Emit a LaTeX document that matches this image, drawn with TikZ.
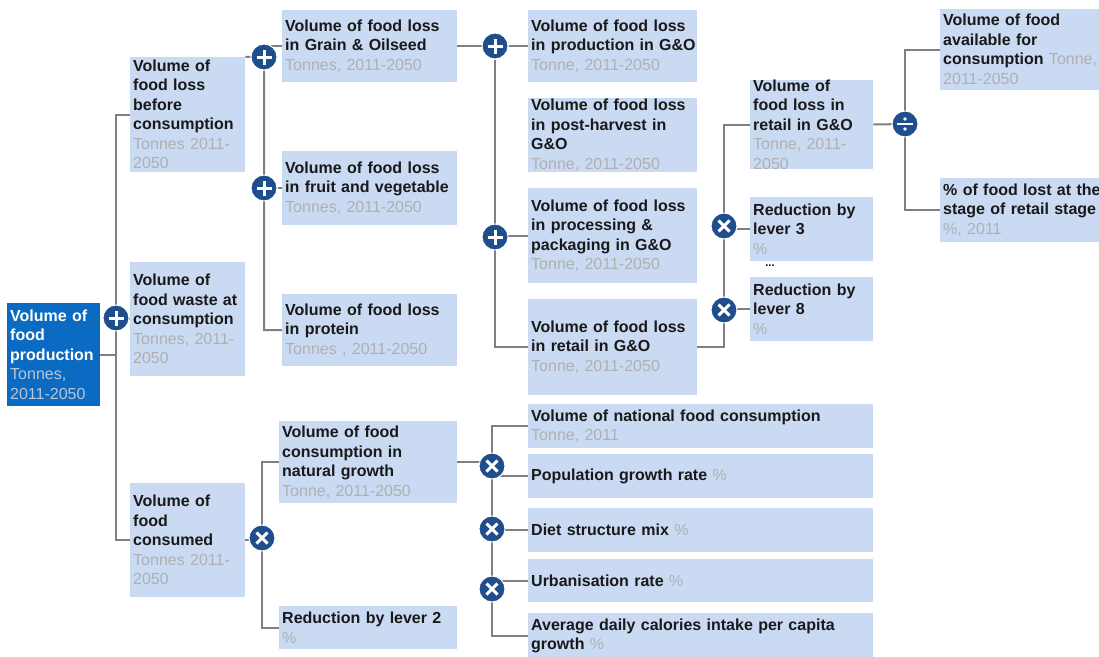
\documentclass[tikz,border=0pt]{standalone}
\usepackage{fontspec}
\setmainfont{Liberation Sans}
\usetikzlibrary{positioning, calc}

\pgfdeclarelayer{bg}
\pgfsetlayers{bg,main}

\definecolor{boxblue}{HTML}{C9DAF2}
\definecolor{rootblue}{HTML}{0B6BC2}
\definecolor{opblue}{HTML}{1F4E8C}
\definecolor{linegray}{HTML}{808080}
\definecolor{unitgray}{HTML}{B0B0B0}
\definecolor{rootunit}{HTML}{B8C6D8}

\newcommand{\unittxt}[1]{{\mdseries\color{unitgray}#1}}
\newcommand{\rootunittxt}[1]{{\mdseries\color{rootunit}#1}}

\begin{document}
\begin{tikzpicture}[
    x=1pt, y=-1pt,
    base/.style={rectangle, anchor=west, align=left, inner xsep=3pt, inner ysep=0pt, font=\bfseries\fontsize{16}{19.5}\selectfont},
    box/.style={base, fill=boxblue, text=black!90},
    rootbox/.style={base, fill=rootblue, text=white},
    wh/.style n args={3}{minimum width=#1pt, minimum height=#2pt, text width=#3pt},
    op/.style={circle, minimum size=26pt, inner sep=0pt, fill=opblue, draw=white, line width=1pt},
    plusop/.style={op, path picture={
        \draw[white, line width=3pt]
            ([xshift=-7.5pt]path picture bounding box.center) -- ([xshift=7.5pt]path picture bounding box.center)
            ([yshift=-7.5pt]path picture bounding box.center) -- ([yshift=7.5pt]path picture bounding box.center);}},
    timesop/.style={op, path picture={
        \draw[white, line width=3pt]
            ([shift={(-5.5pt,-5.5pt)}]path picture bounding box.center) -- ([shift={(5.5pt,5.5pt)}]path picture bounding box.center)
            ([shift={(-5.5pt,5.5pt)}]path picture bounding box.center) -- ([shift={(5.5pt,-5.5pt)}]path picture bounding box.center);}},
    divop/.style={op, path picture={
        \draw[white, line width=2.5pt]
            ([xshift=-8pt]path picture bounding box.center) -- ([xshift=8pt]path picture bounding box.center);
        \fill[white] ([yshift=5pt]path picture bounding box.center) circle (1.8pt)
            ([yshift=-5pt]path picture bounding box.center) circle (1.8pt);}},
    link/.style={draw=linegray, line width=2pt}
]
    \useasboundingbox (0,0) rectangle (1099,656);

    % --- ROOT ---
    \node (root) [rootbox, wh={93}{103}{87}] at (7,354.5) {Volume of\\food\\production\\\rootunittxt{Tonnes,}\\\rootunittxt{2011-2050}};

    % --- LEVEL 1 ---
    \node (a1) [box, wh={115}{115}{109}] at (130,114.5) {Volume of\\food loss\\before\\consumption\\\unittxt{Tonnes 2011-}\\\unittxt{2050}};
    \node (a2) [box, wh={115}{114}{109}] at (130,319) {Volume of\\food waste at\\consumption\\\unittxt{Tonnes, 2011-}\\\unittxt{2050}};
    \node (a3) [box, wh={115}{114}{109}] at (130,540) {Volume of\\food\\consumed\\\unittxt{Tonnes 2011-}\\\unittxt{2050}};

    % --- FOOD LOSS BY GROUP ---
    \node (b1) [box, wh={175}{72}{169}] at (282,46) {Volume of food loss\\in Grain \& Oilseed\\\unittxt{Tonnes, 2011-2050}};
    \node (b2) [box, wh={175}{74}{169}] at (282,188) {Volume of food loss\\in fruit and vegetable\\\unittxt{Tonnes, 2011-2050}};
    \node (b3) [box, wh={175}{72}{169}] at (282,330) {Volume of food loss\\in protein\\\unittxt{Tonnes , 2011-2050}};

    % --- G&O STAGES ---
    \node (c1) [box, wh={169}{72}{163}] at (528,46) {Volume of food loss\\\mbox{in production in G\&O}\\\unittxt{Tonne, 2011-2050}};
    \node (c2) [box, wh={169}{74}{163}] at (528,135) {Volume of food loss\\in post-harvest in\\G\&O\\\unittxt{Tonne, 2011-2050}};
    \node (c3) [box, wh={169}{95}{163}] at (528,235.5) {Volume of food loss\\in processing \&\\packaging in G\&O\\\unittxt{Tonne, 2011-2050}};
    \node (c4) [box, wh={169}{96}{163}] at (528,347) {Volume of food loss\\in retail in G\&O\\\unittxt{Tonne, 2011-2050}};

    % --- RETAIL ---
    \node (d1) [box, wh={123}{87}{117}] at (750,124.5) {Volume of\\food loss in\\retail in G\&O\\\unittxt{Tonne, 2011-}\\\unittxt{2050}};
    \node (d2) [box, wh={123}{64}{117}] at (750,229) {Reduction by\\lever 3\\\unittxt{\%}};
    \node (dots) [font=\bfseries\fontsize{11}{12}\selectfont] at (770,266) {...};
    \node (d3) [box, wh={123}{64}{117}] at (750,309) {Reduction by\\lever 8\\\unittxt{\%}};

    \node (e1) [box, wh={165}{81}{159}] at (940,49.5) {Volume of food\\available for\\\mbox{consumption \unittxt{Tonne,}}\\\unittxt{2011-2050}};
    \node (e2) [box, wh={165}{64}{159}] at (940,210) {\mbox{\% of food lost at the}\\stage of retail stage\\\unittxt{\%, 2011}};

    % --- CONSUMPTION ---
    \node (f1) [box, wh={178}{82}{172}] at (279,462) {Volume of food\\consumption in\\natural growth\\\unittxt{Tonne, 2011-2050}};
    \node (f2) [box, wh={178}{43}{172}] at (279,627.5) {Reduction by lever 2\\\unittxt{\%}};

    \node (g1) [box, wh={345}{44}{339}] at (528,426) {Volume of national food consumption\\\unittxt{Tonne, 2011}};
    \node (g2) [box, wh={345}{44}{339}] at (528,476) {Population growth rate \unittxt{\%}};
    \node (g3) [box, wh={345}{44}{339}] at (528,530) {Diet structure mix \unittxt{\%}};
    \node (g4) [box, wh={345}{43}{339}] at (528,580.5) {Urbanisation rate \unittxt{\%}};
    \node (g5) [box, wh={345}{46}{339}] at (528,636) {Average daily calories intake per capita\\growth \unittxt{\%}};

    % --- OPERATORS ---
    \node (opA) [plusop] at (116,318) {};
    \node (opB1) [plusop] at (264,57) {};
    \node (opB2) [plusop] at (264,188) {};
    \node (opC1) [plusop] at (495,46) {};
    \node (opC2) [plusop] at (495,237) {};
    \node (opD1) [timesop] at (724,226) {};
    \node (opD2) [timesop] at (724,310) {};
    \node (opE) [divop] at (905,124) {};
    \node (opF) [timesop] at (262,538) {};
    \node (opG1) [timesop] at (492,466) {};
    \node (opG2) [timesop] at (492,529) {};
    \node (opG3) [timesop] at (492,589) {};

    % --- LINKS ---
    \begin{pgfonlayer}{bg}
    \draw[link] (root.east) -- (root.east -| opA);
    \draw[link] (a1.west) -- (a1.west -| opA) -- (a3.west -| opA) -- (a3.west);
    \draw[link] (a2.west -| opA) -- (a2.west);

    \draw[link] (a1.north east) -- (opB1) -- (b3.west -| opB1) -- (b3.west);
    \draw[link] (b1.west -| opB1) -- (b1.west);
    \draw[link] (opB2) -- (b2.west);

    \draw[link] (b1.east) -- (opC1) -- (c4.west -| opC1) -- (c4.west);
    \draw[link] (opC1) -- (c1.west);
    \draw[link] (c3.west -| opC2) -- (c3.west);

    \draw[link] (c4.east) -- (c4.east -| opD1) -- (d1.west -| opD1) -- (d1.west);
    \draw[link] (d2.west -| opD1) -- (d2.west);
    \draw[link] (d3.west -| opD2) -- (d3.west);

    \draw[link] (d1.east) -- (opE);
    \draw[link] (e1.west) -- (e1.west -| opE) -- (e2.west -| opE) -- (e2.west);

    \draw[link] (a3.east) -- (a3.east -| opF);
    \draw[link] (f1.west) -- (f1.west -| opF) -- (f2.west -| opF) -- (f2.west);

    \draw[link] (f1.east) -- (f1.east -| opG1);
    \draw[link] (g1.west) -- (g1.west -| opG1) -- (g5.west -| opG1) -- (g5.west);
    \draw[link] (g2.west -| opG1) -- (g2.west);
    \draw[link] (g3.west -| opG2) -- (g3.west);
    \draw[link] (g4.west -| opG3) -- (g4.west);
    \end{pgfonlayer}

\end{tikzpicture}
\end{document}
